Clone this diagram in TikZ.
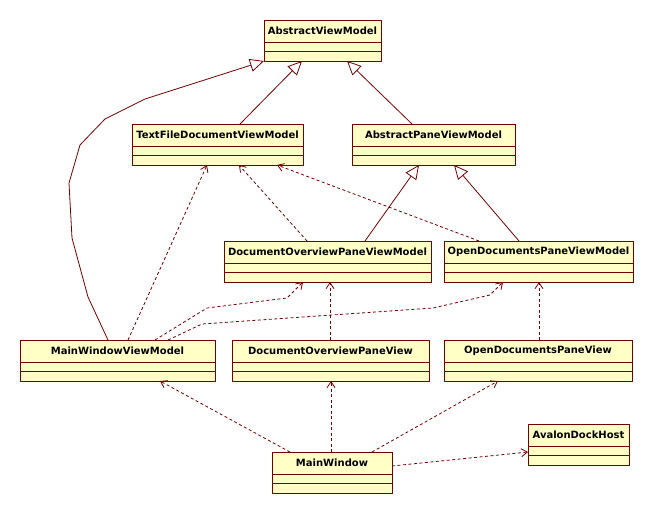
\documentclass[tikz,border=0pt]{standalone}
\usepackage{fontspec}
\setmainfont{DejaVu Sans}
\usetikzlibrary{arrows.meta,calc}
\definecolor{clsfill}{HTML}{FFFFC6}
\definecolor{clsdraw}{HTML}{700000}
\definecolor{lineclr}{HTML}{700000}
\tikzset{
  clsbox/.style={draw=clsdraw, fill=clsfill, line width=1pt, minimum height=41pt, inner sep=0pt, outer sep=0pt},
  clstext/.style={font=\fontsize{10}{12}\selectfont\bfseries, inner sep=0pt, text=black},
  divider/.style={draw=clsdraw, line width=1pt},
  gen/.style={draw=lineclr, line width=0.8pt, -{Triangle[open,length=14pt,width=13pt,fill=white]}},
  dep/.style={draw=lineclr, line width=0.8pt, dash pattern=on 3pt off 2.5pt, -{Straight Barb[length=6pt,width=8pt]}}
}
\newcommand\umlcls[5]{%
  \node[clsbox, minimum width=#4pt, anchor=north west] (#1) at (#2,#3) {};
  \node[clstext] (#1-t) at ([yshift=-11pt]#1.north) {#5};
  \draw[divider] ([yshift=-22pt]#1.north west) -- ([yshift=-22pt]#1.north east);
  \draw[divider] ([yshift=-31pt]#1.north west) -- ([yshift=-31pt]#1.north east);
}
\begin{document}
\begin{tikzpicture}[x=1pt,y=-1pt]
\fill[white] (0,0) rectangle (654,514);
\useasboundingbox (0,0) rectangle (654,514);

\umlcls{avm}{264}{20}{117}{AbstractViewModel}
\umlcls{tfdvm}{132}{124}{171}{TextFileDocumentViewModel}
\umlcls{apvm}{352}{124}{163}{AbstractPaneViewModel}
\umlcls{dopvm}{224}{241}{207}{DocumentOverviewPaneViewModel}
\umlcls{odpvm}{444}{241}{189}{OpenDocumentsPaneViewModel}
\umlcls{mwvm}{20}{340}{195}{MainWindowViewModel}
\umlcls{dopv}{232}{340}{197}{DocumentOverviewPaneView}
\umlcls{odpv}{444}{340}{188}{OpenDocumentsPaneView}
\umlcls{mw}{272}{452}{120}{MainWindow}
\umlcls{adh}{528}{424}{101}{AvalonDockHost}

% generalizations
\draw[gen] ([xshift=108pt]tfdvm.north west) -- ([xshift=38pt]avm.south west);
\draw[gen] ([xshift=60pt]apvm.north west) -- ([xshift=83pt]avm.south west);
\draw[gen] ([xshift=88pt]mwvm.north west) -- (88,297) -- (72,238) -- (69,183) -- (80,145) -- (105,119) -- (145,99) -- (avm.south west);
\draw[gen] ([xshift=141pt]dopvm.north west) -- ([xshift=67pt]apvm.south west);
\draw[gen] ([xshift=75pt]odpvm.north west) -- ([xshift=102pt]apvm.south west);

% dependencies
\draw[dep] ([xshift=108pt]mwvm.north west) -- ([xshift=75pt]tfdvm.south west);
\draw[dep] ([xshift=83pt]dopvm.north west) -- ([xshift=107pt]tfdvm.south west);
\draw[dep] ([xshift=35pt]odpvm.north west) -- ([xshift=145pt]tfdvm.south west);
\draw[dep] ([xshift=135pt]mwvm.north west) -- (207,308) -- (287,298) -- ([xshift=79pt]dopvm.south west);
\draw[dep] ([xshift=148pt]mwvm.north west) -- (202,324) -- (433,308) -- (490,295) -- ([xshift=59pt]odpvm.south west);
\draw[dep] ([xshift=98pt]dopv.north west) -- ([xshift=106pt]dopvm.south west);
\draw[dep] ([xshift=95pt]odpv.north west) -- ([xshift=95pt]odpvm.south west);
\draw[dep] ([xshift=18pt]mw.north west) -- ([xshift=140pt]mwvm.south west);
\draw[dep] ([xshift=59pt]mw.north west) -- ([xshift=99pt]dopv.south west);
\draw[dep] ([xshift=100pt]mw.north west) -- ([xshift=54pt]odpv.south west);
\draw[dep] ([yshift=-14pt]mw.north east) -- ([yshift=-28pt]adh.north west);
\end{tikzpicture}
\end{document}
